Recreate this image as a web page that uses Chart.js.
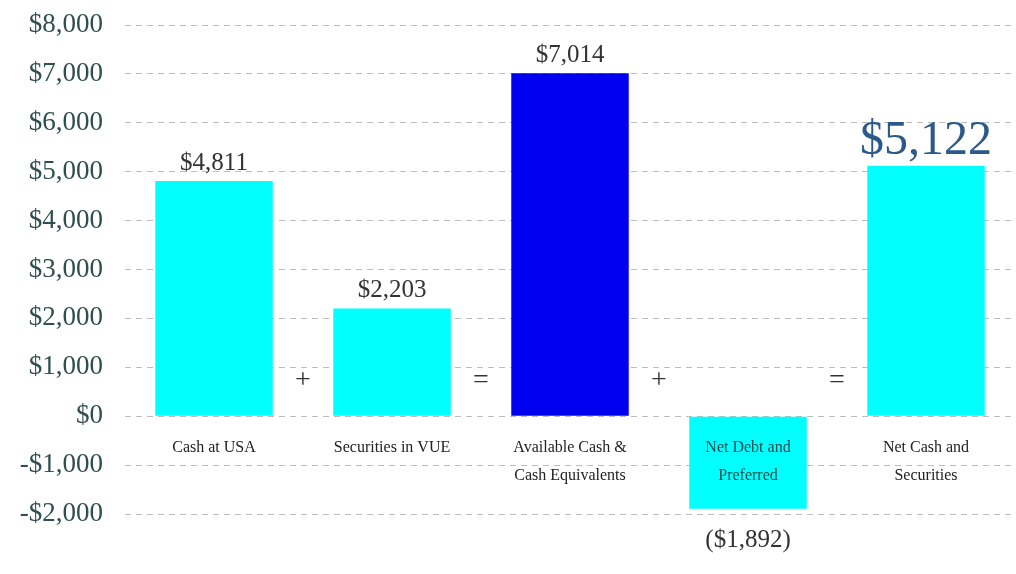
<!DOCTYPE html>
<html>
<head>
<meta charset="utf-8">
<script src="https://cdn.jsdelivr.net/npm/chart.js@4.4.1/dist/chart.umd.min.js"></script>
<style>
  html, body { margin: 0; padding: 0; background: #fff; }
  #wrap { width: 1016px; height: 574px; }
</style>
</head>
<body>
<div id="wrap"><canvas id="bridge_chart"></canvas></div>
<script>
const categories = [
  ["Cash at USA"],
  ["Securities in VUE"],
  ["Available Cash &", "Cash Equivalents"],
  ["Net Debt and", "Preferred"],
  ["Net Cash and", "Securities"],
];
const values = [4811, 2203, 7014, -1892, 5122];
const operators = ["+", "=", "+", "="];
const yTicks = [-2000, -1000, 0, 1000, 2000, 3000, 4000, 5000, 6000, 7000, 8000];

const serif = "'Liberation Serif', 'DejaVu Serif', serif";
const cyan = "#00ffff";
const blue = "#0000f0";

function money(v) {
  const s = "$" + Math.abs(v).toLocaleString("en-US");
  return v < 0 ? "(" + s + ")" : s;
}

// category names, operators and value labels drawn onto the plot
const overlay = {
  id: "overlay",
  afterDatasetsDraw(chart) {
    const ctx = chart.ctx;
    const x = chart.scales.x;
    const y = chart.scales.y;
    const zero = y.getPixelForValue(0);
    ctx.save();
    ctx.textAlign = "center";
    ctx.textBaseline = "middle";

    categories.forEach((lines, i) => {
      const cx = x.getPixelForValue(i);
      ctx.font = "16px " + serif;
      ctx.fillStyle = values[i] < 0 ? "#1d4a4a" : "#222";
      lines.forEach((t, j) => ctx.fillText(t, cx, zero + 32 + j * 28));
    });

    operators.forEach((op, i) => {
      const cx = (x.getPixelForValue(i) + x.getPixelForValue(i + 1)) / 2;
      ctx.font = "28px " + serif;
      ctx.fillStyle = "#333";
      ctx.fillText(op, cx, zero - 36);
    });

    const meta = chart.getDatasetMeta(0);
    values.forEach((v, i) => {
      const bar = meta.data[i];
      const last = i === values.length - 1;
      if (last) {
        ctx.font = "48px " + serif;
        ctx.fillStyle = "#2b5a8a";
        ctx.fillText(money(v), bar.x, bar.y - 24);
      } else if (v < 0) {
        ctx.font = "25px " + serif;
        ctx.fillStyle = "#333";
        ctx.fillText(money(v), bar.x, bar.y + 32);
      } else {
        ctx.font = "25px " + serif;
        ctx.fillStyle = "#333";
        ctx.fillText(money(v), bar.x, bar.y - 18);
      }
    });
    ctx.restore();
  },
};

new Chart(document.getElementById("bridge_chart").getContext("2d"), {
  type: "bar",
  data: {
    labels: categories,
    datasets: [
      {
        data: values,
        backgroundColor: values.map((v, i) => (i === 2 ? blue : cyan)),
        borderWidth: 0,
        barPercentage: 0.66,
        categoryPercentage: 1,
      },
    ],
  },
  options: {
    responsive: true,
    maintainAspectRatio: false,
    animation: false,
    layout: { padding: { top: 25, bottom: 60, left: 0, right: 1 } },
    plugins: {
      legend: { display: false },
      tooltip: { enabled: false },
    },
    scales: {
      x: {
        display: false,
      },
      y: {
        min: -2000,
        max: 8000,
        afterFit(scale) {
          scale.width = 125;
          scale.paddingTop = 0;
          scale.paddingBottom = 0;
        },
        afterBuildTicks(scale) { scale.ticks = yTicks.map((v) => ({ value: v })); },
        border: { display: false, dash: [6, 5] },
        grid: {
          color: "#bdbdbd",
          lineWidth: 1,
          drawTicks: false,
        },
        ticks: {
          padding: 22,
          color: "#2f4f4f",
          font: { family: serif, size: 27 },
          callback: (v) => (v < 0 ? "-$" : "$") + Math.abs(v).toLocaleString("en-US"),
        },
      },
    },
  },
  plugins: [overlay],
});
</script>
</body>
</html>
